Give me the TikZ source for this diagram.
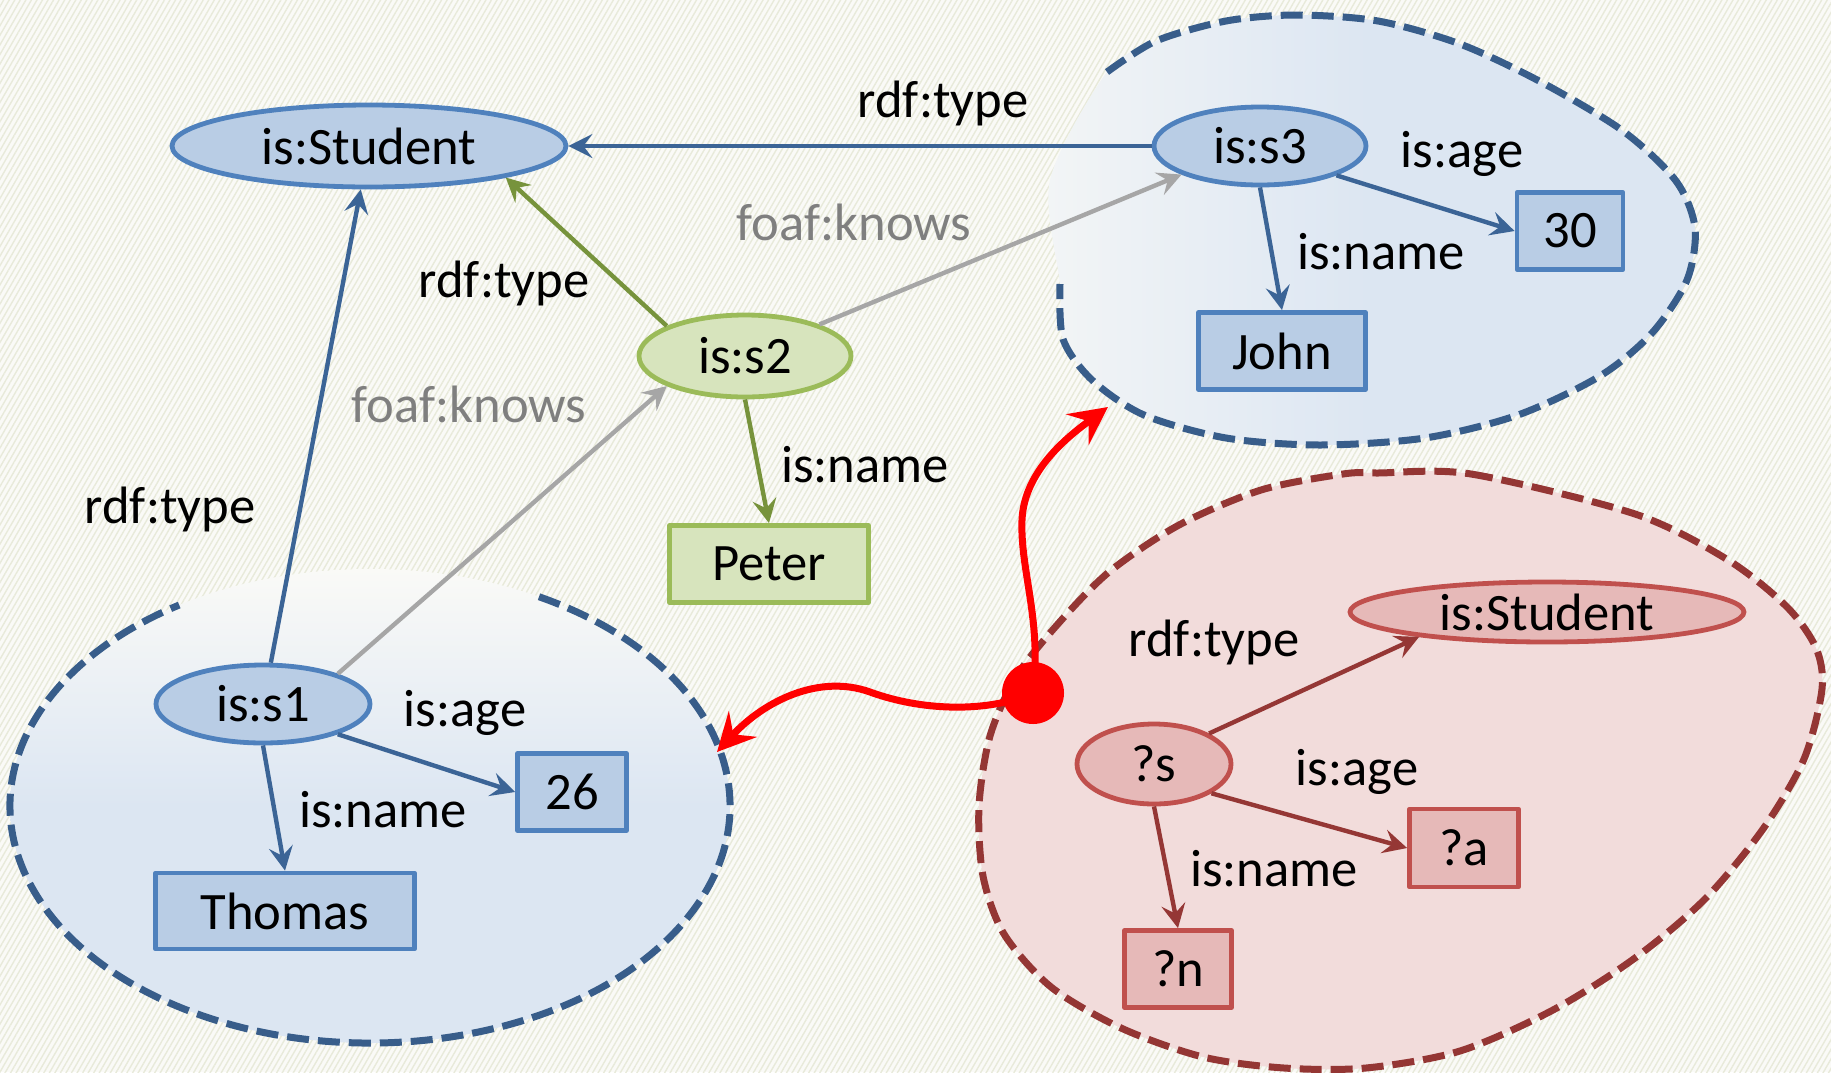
\documentclass[tikz,border=0pt]{standalone}
\usepackage{fontspec}
\setmainfont{Carlito}
\usetikzlibrary{shapes.geometric,arrows.meta,patterns.meta}

\definecolor{bgcol}{HTML}{FAFAF7}
\definecolor{hatchc}{HTML}{E8EADA}
\definecolor{bfill}{HTML}{B9CDE5}
\definecolor{bline}{HTML}{4F81BD}
\definecolor{bedgec}{HTML}{3B6496}
\definecolor{bblob}{HTML}{DCE6F2}
\definecolor{bdash}{HTML}{385D8A}
\definecolor{gfill}{HTML}{D7E4BD}
\definecolor{gline}{HTML}{9BBB59}
\definecolor{gedgec}{HTML}{77933C}
\definecolor{rfill}{HTML}{E6B9B8}
\definecolor{rline}{HTML}{C0504D}
\definecolor{redgec}{HTML}{953735}
\definecolor{rblob}{HTML}{F2DCDB}
\definecolor{rdash}{HTML}{943634}
\definecolor{kedgec}{HTML}{A6A6A6}
\definecolor{ktext}{HTML}{7F7F7F}
\definecolor{hot}{HTML}{FF0000}

\newcommand\labelfont{\fontsize{26.3}{30}\selectfont}

\tikzset{
  lbl/.style={font=\labelfont, inner sep=0pt},
  nd/.style={font=\labelfont, inner sep=0pt, line width=2.4pt, line join=round},
  bell/.style={nd, ellipse, draw=bline, fill=bfill},
  bbox/.style={nd, rectangle, draw=bline, fill=bfill},
  gell/.style={nd, ellipse, draw=gline, fill=gfill},
  gbox/.style={nd, rectangle, draw=gline, fill=gfill},
  rell/.style={nd, ellipse, draw=rline, fill=rfill},
  rbox/.style={nd, rectangle, draw=rline, fill=rfill},
  arrowtip/.style={-{Stealth[length=12pt,width=12pt,inset=4.5pt]}},
  bedge/.style={arrowtip, draw=bedgec, line width=2.2pt},
  gedge/.style={arrowtip, draw=gedgec, line width=2.2pt},
  kedge/.style={arrowtip, draw=kedgec, line width=2.2pt},
  redge/.style={arrowtip, draw=redgec, line width=2.2pt},
  hotarrow/.style={draw=hot, line width=3.5pt, -{Stealth[length=19pt,width=19pt,inset=7pt]}},
  blobdash/.style={line width=3.5pt, dash pattern=on 11pt off 4.5pt},
}

\begin{document}
\begin{tikzpicture}[x=0.5pt,y=-0.5pt]
\useasboundingbox (0,0) rectangle (1831,1072);
% hatched paper background
\fill[bgcol] (0,0) rectangle (1831,1072);
\fill[pattern={Lines[angle=60,distance=2.4pt,line width=0.7pt]}, pattern color=hatchc] (0,0) rectangle (1831,1072);

% data graph: group around is:s1
\shade[top color=bgcol, bottom color=bblob, middle color=bblob]
  (370,806) ellipse [x radius=360, y radius=237];
\draw[bdash, blobdash] (370,806) ++(-62:360 and 237)
  arc[start angle=-62, end angle=238, x radius=360, y radius=237];

% data graph: group around is:s3
\shade[left color=bblob!25!bgcol, right color=bblob, middle color=bblob]
  plot[smooth cycle] coordinates {(1107,72) (1156,41) (1226,21) (1296,15) (1378,21)
  (1460,44) (1541,82) (1623,131) (1676,181) (1695,228) (1687,280) (1652,333)
  (1600,376) (1518,415) (1425,438) (1320,445) (1226,438) (1144,415) (1092,380)
  (1063,339) (1060,284) (1050,180)};
\draw[bdash, blobdash] plot[smooth] coordinates {(1107,72) (1156,41) (1226,21) (1296,15)
  (1378,21) (1460,44) (1541,82) (1623,131) (1676,181) (1695,228) (1687,280)
  (1652,333) (1600,376) (1518,415) (1425,438) (1320,445) (1226,438) (1144,415)
  (1092,380) (1063,339) (1060,284)};

% query pattern region
\fill[rblob] plot[smooth cycle] coordinates {(1378,473) (1471,474) (1635,514) (1728,560)
  (1787,607) (1816,648) (1822,689) (1804,759) (1763,829) (1705,899) (1635,958)
  (1553,1010) (1460,1051) (1366,1068) (1284,1068) (1203,1057) (1121,1028)
  (1051,987) (1004,934) (983,876) (979,806) (990,736) (1016,677) (1057,625)
  (1109,572) (1179,525) (1261,490) (1343,474)};
\draw[rdash, blobdash] plot[smooth cycle] coordinates {(1378,473) (1471,474) (1635,514)
  (1728,560) (1787,607) (1816,648) (1822,689) (1804,759) (1763,829) (1705,899)
  (1635,958) (1553,1010) (1460,1051) (1366,1068) (1284,1068) (1203,1057)
  (1121,1028) (1051,987) (1004,934) (983,876) (979,806) (990,736) (1016,677)
  (1057,625) (1109,572) (1179,525) (1261,490) (1343,474)};

% resources and literals
\node[bell, minimum width=197pt, minimum height=41pt] (stu) at (369,146) {is:Student};
\node[bell, minimum width=106pt, minimum height=39pt] (s3) at (1260,146) {is:s3};
\node[bbox, minimum width=53pt, minimum height=38.5pt] (n30) at (1570,231) {30};
\node[bbox, minimum width=83.5pt, minimum height=38.5pt] (john) at (1282,351) {John};
\node[gell, minimum width=106pt, minimum height=41pt] (s2) at (745,356) {is:s2};
\node[gbox, minimum width=99.5pt, minimum height=38.5pt] (peter) at (769,564) {Peter};
\node[bell, minimum width=107pt, minimum height=39pt] (s1) at (263,704) {is:s1};
\node[bbox, minimum width=54.5pt, minimum height=38.5pt] (n26) at (572,792) {26};
\node[bbox, minimum width=129.5pt, minimum height=38pt] (thomas) at (285,911) {Thomas};

% query pattern nodes
\node[rell, minimum width=197pt, minimum height=30pt] (rstu) at (1547,612) {is:Student};
\node[rell, minimum width=77pt, minimum height=40pt] (qs) at (1154,764) {?s};
\node[rbox, minimum width=54.5pt, minimum height=39pt] (qa) at (1464,848) {?a};
\node[rbox, minimum width=53.5pt, minimum height=38.5pt] (qn) at (1178,969) {?n};

% edges of the data graph
\draw[bedge] (s3) -- (stu);
\draw[bedge] (s1) -- (stu);
\draw[gedge] (s2.159) -- (stu.-13);
\draw[kedge] (s1.22) -- (s2.201);
\draw[kedge] (s2.23) -- (s3.200);
\draw[bedge] (s3.-21) -- (n30.west);
\draw[bedge] (s3.south) -- (john.north);
\draw[gedge] (s2.south) -- (peter.north);
\draw[bedge] (s1.-22) -- (n26.west);
\draw[bedge] (s1.south) -- (thomas.north);

% edges of the query pattern
\draw[redge] (qs.29) -- (rstu.191);
\draw[redge] (qs.-27) -- (qa.west);
\draw[redge] (qs.south) -- (qn.north);

% edge labels
\node[lbl] (lt1) at (943,103) {rdf:type};
\node[lbl, text=ktext] (lk1) at (854,222) {foaf:knows};
\node[lbl] (la3) at (1462,154) {is:age};
\node[lbl] (ln3) at (1381,252) {is:name};
\node[lbl] (lt2) at (504,283) {rdf:type};
\node[lbl, text=ktext] (lk2) at (469,404) {foaf:knows};
\node[lbl] (ln2) at (865,465) {is:name};
\node[lbl] (lt0) at (170,509) {rdf:type};
\node[lbl] (la1) at (465,713) {is:age};
\node[lbl] (ln1) at (383,810) {is:name};
\node[lbl] (ltq) at (1214,642) {rdf:type};
\node[lbl] (laq) at (1357,772) {is:age};
\node[lbl] (lnq) at (1274,869) {is:name};

% matches of the pattern
\node[circle, fill=hot, minimum size=31pt, inner sep=0pt] (hub) at (1033,693) {};
\coordinate (tipL) at (717,752);
\coordinate (tipR) at (1108,407);
\draw[hotarrow] (hub.center) .. controls (990,712) and (925,712) .. (870,692)
  .. controls (820,674) and (765,700) .. (tipL);
\draw[hotarrow] (hub.center) .. controls (1042,620) and (1020,570) .. (1022,520)
  .. controls (1024,470) and (1070,435) .. (tipR);
\end{tikzpicture}
\end{document}
